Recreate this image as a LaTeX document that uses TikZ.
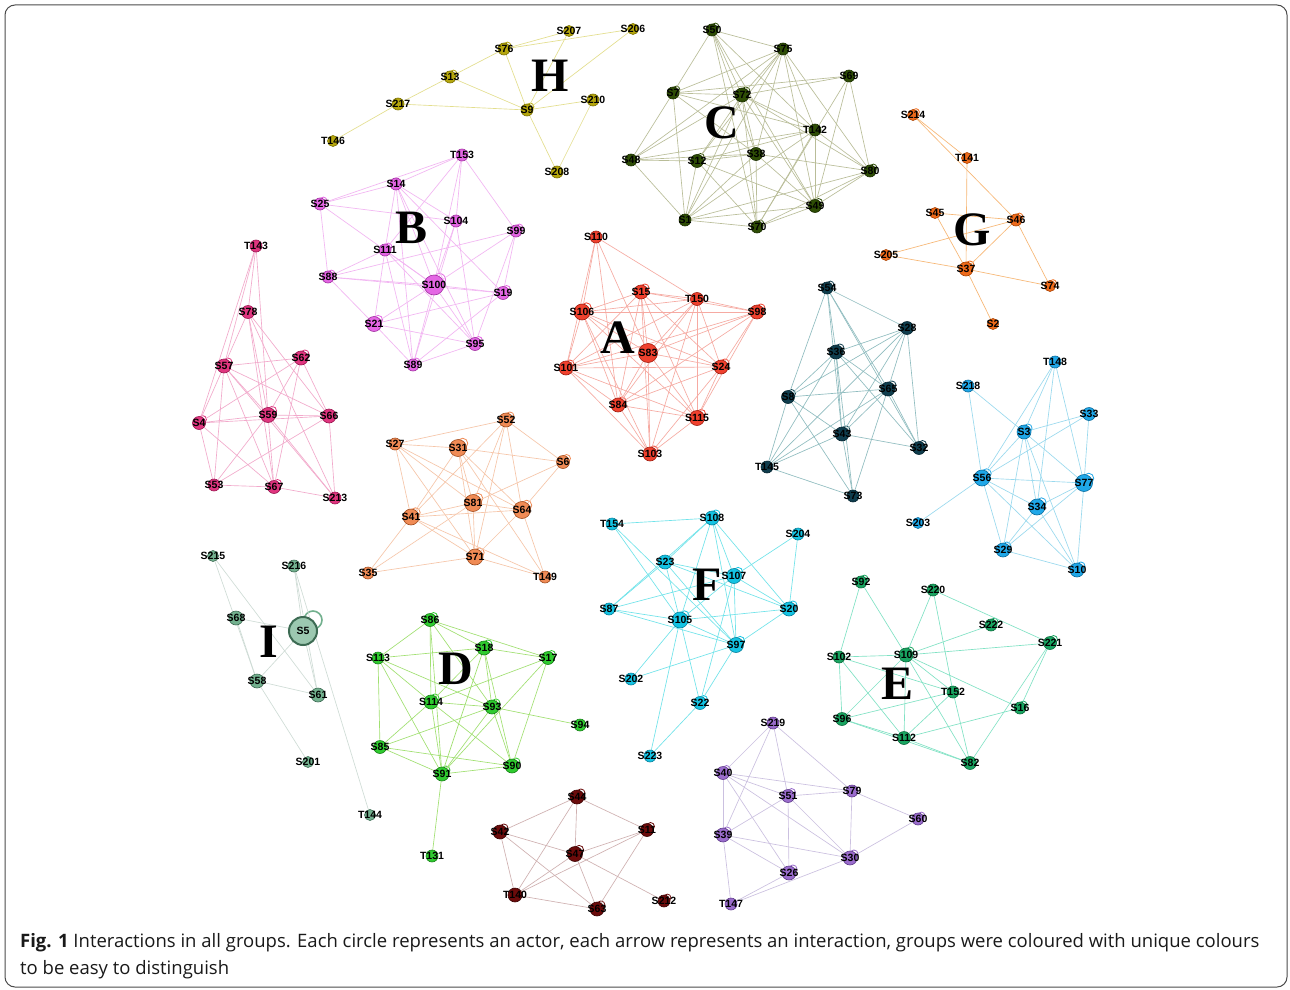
\documentclass[tikz,border=0pt]{standalone}
\usepackage{fontspec}
\setmainfont{Liberation Serif}
\newfontfamily\capfont{Open Sans}
\newfontfamily\lblfamily{Liberation Sans}
\pgfdeclarelayer{bg}
\pgfsetlayers{bg,main}
\newcommand\cl[3]{\definecolor{nf}{HTML}{#1}\definecolor{nl}{HTML}{#2}\definecolor{ec}{HTML}{#3}}
\newcommand\vx[5]{\node[vert,minimum size=#5*2pt] (#1) at (#2,#3) {};\node[lbl] at (#1) {#4};}
\newcommand\vl[5]{\vx{#1}{#2}{#3}{#4}{#5}\begin{pgfonlayer}{bg}\draw[lpc] (#2+#5*0.55,#3-#5*0.55) circle[radius=#5*0.6pt];\end{pgfonlayer}}
\newcommand\E[1]{\begin{pgfonlayer}{bg}\foreach \a/\b in {#1}{\draw[ed] (\a.center)--(\b.center);}\end{pgfonlayer}}
\begin{document}
\begin{tikzpicture}[x=1pt,y=-1pt,
  vert/.style={circle,inner sep=0pt,fill=nf,draw=nl,line width=0.6pt},
  lbl/.style={font=\lblfamily\bfseries\fontsize{10.5}{10.5}\selectfont,inner sep=0pt,text=black},
  ed/.style={draw=ec,line width=0.65pt},
  lpc/.style={draw=nf,line width=0.8pt},
  letter/.style={font=\rmfamily\bfseries\fontsize{48}{48}\selectfont,inner sep=0pt,text=black},
  frame/.style={draw=black!70,line width=1pt,rounded corners=10pt},
  captxt/.style={font=\capfont\fontsize{18.5}{18.5}\selectfont,anchor=west,inner sep=0pt,text=black!90}]
\useasboundingbox (0,0) rectangle (1290,990);
\begin{pgfonlayer}{bg}\fill[white] (0,0) rectangle (1290,990);\end{pgfonlayer}
\draw[frame] (5,5) rectangle (1287,987);

% ---------- H ----------
\cl{B5A60C}{7A7000}{E3DE8C}
\vx{S207}{569}{31}{S207}{5.5}
\vx{S206}{633}{29}{S206}{5.5}
\vl{S76}{504}{49}{S76}{6}
\vl{S13}{450}{77}{S13}{6}
\vx{S217}{398}{104}{S217}{6}
\vl{S9}{527}{110}{S9}{6}
\vx{S210}{593}{100}{S210}{6}
\vx{T146}{333}{141}{T146}{5.5}
\vx{S208}{557}{172}{S208}{6}
\E{S76/S207,S76/S206,S207/S9,S206/S9,S76/S9,S76/S13,S13/S217,S13/S9,S217/S9,S217/T146,S9/S210,S9/S208,S210/S208}
\node[letter] (LH) at (550,76) {H};

% ---------- C ----------
\cl{2E4D05}{1A2D00}{B9BD98}
\vl{S50}{712}{30}{S50}{6}
\vx{S75}{783}{49}{S75}{6}
\vx{S69}{849}{76}{S69}{6}
\vl{S7}{673}{93}{S7}{6}
\vl{S72}{742}{95}{S72}{7}
\vx{T142}{815}{130}{T142}{6}
\vx{S48}{631}{160}{S48}{6}
\vl{S12}{697}{161}{S12}{6.5}
\vx{S38}{756}{154}{S38}{6.5}
\vl{S80}{870}{171}{S80}{6}
\vl{S49}{815}{206}{S49}{6.5}
\vx{S1}{685}{220}{S1}{6}
\vl{S70}{757}{227}{S70}{6}
\E{S50/S75,S50/S7,S50/S72,S50/S38,S50/S70,S50/S49,S50/T142,S75/S7,S75/S48,S75/S72,S75/S12,S75/S38,S75/S1,S75/T142,S75/S49,S75/S80,S69/S7,S69/S72,S69/S49,S69/S80,S69/S70,S7/S48,S7/S1,S7/S38,S7/T142,S7/S72,S72/S48,S72/S12,S72/S1,S72/S70,S72/S49,S72/T142,S72/S80,S72/S38,T142/S48,T142/S12,T142/S1,T142/S49,T142/S70,T142/S80,S48/S38,S48/S12,S48/S1,S12/S1,S12/S70,S12/S49,S12/S38,S38/S1,S38/S70,S38/S49,S38/S80,S80/S1,S80/S70,S80/S49,S49/S1,S49/S70,S1/S70}
\node[letter] (LC) at (722,123) {C};

% ---------- G ----------
\cl{EE6A1A}{A84000}{F7B673}
\vl{S214}{913}{115}{S214}{5.5}
\vx{T141}{967}{158}{T141}{5.5}
\vx{S45}{935}{213}{S45}{5.5}
\vl{S46}{1016}{220}{S46}{6}
\vx{S205}{886}{255}{S205}{5.5}
\vl{S37}{966}{269}{S37}{7}
\vl{S74}{1050}{286}{S74}{5.5}
\vx{S2}{993}{324}{S2}{5.5}
\E{S214/T141,S214/S46,T141/S37,S45/S46,S45/S37,S46/S205,S46/S37,S46/S74,S205/S37,S37/S74,S37/S2}
\node[letter] (LG) at (972,230) {G};

% ---------- B ----------
\cl{E466E4}{A030A0}{F2B4F2}
\vx{T153}{462}{155}{T153}{6}
\vx{S14}{396}{184}{S14}{6}
\vl{S25}{320}{204}{S25}{6}
\vx{S104}{456}{221}{S104}{6}
\vl{S99}{516}{231}{S99}{6}
\vl{S111}{385}{250}{S111}{6}
\vl{S88}{328}{277}{S88}{6}
\vl{S100}{434}{285}{S100}{10}
\vl{S19}{503}{293}{S19}{6.5}
\vl{S21}{374}{324}{S21}{7.5}
\vl{S95}{475}{344}{S95}{6.5}
\vl{S89}{413}{365}{S89}{6}
\E{T153/S25,T153/S14,T153/S111,T153/S104,T153/S100,T153/S99,S14/S25,S14/S104,S14/S111,S14/S100,S14/S95,S14/S19,S14/S89,S25/S88,S25/S100,S25/S104,S104/S100,S104/S95,S104/S89,S99/S88,S99/S100,S99/S19,S99/S95,S111/S88,S111/S21,S111/S89,S111/S95,S111/S100,S88/S100,S88/S21,S88/S19,S100/S19,S100/S21,S100/S89,S100/S95,S19/S21,S19/S89,S21/S95,S21/S89,S89/S95}
\node[letter] (LB) at (412,228) {B};

% ---------- A ----------
\cl{F0412E}{A01D10}{F6AAA2}
\vx{S110}{596}{237}{S110}{6}
\vl{S15}{641}{292}{S15}{7}
\vx{T150}{697}{299}{T150}{6.5}
\vl{S98}{757}{312}{S98}{7}
\vl{S106}{582}{312}{S106}{8}
\vx{S83}{648}{353}{S83}{9.5}
\vl{S101}{566}{368}{S101}{7}
\vl{S24}{721}{367}{S24}{7}
\vl{S84}{618}{405}{S84}{7}
\vl{S115}{697}{418}{S115}{7.5}
\vl{S103}{650}{454}{S103}{7}
\E{S110/S106,S110/S101,S110/S84,S110/T150,S110/S83,S15/S106,S15/T150,S15/S98,S15/S101,S15/S84,S15/S83,S15/S24,S15/S115,S15/S103,T150/S106,T150/S98,T150/S101,T150/S84,T150/S83,T150/S24,T150/S115,T150/S103,S98/S106,S98/S101,S98/S83,S98/S24,S98/S115,S98/S84,S106/S101,S106/S83,S106/S84,S106/S24,S106/S115,S106/S103,S83/S101,S83/S24,S83/S84,S83/S115,S83/S103,S101/S24,S101/S84,S101/S103,S101/S115,S24/S84,S24/S115,S24/S103,S84/S115,S84/S103,S115/S103}
\node[letter] (LA) at (618,338) {A};

% ---------- pink left ----------
\cl{E0357F}{9A1650}{F2A9CB}
\vx{T143}{256}{246}{T143}{6}
\vx{S78}{248}{312}{S78}{6.5}
\vl{S62}{301}{358}{S62}{7}
\vl{S57}{224}{366}{S57}{7}
\vl{S59}{268}{415}{S59}{7.5}
\vl{S4}{199}{423}{S4}{6.5}
\vx{S66}{329}{416}{S66}{7}
\vx{S53}{214}{485}{S53}{6}
\vl{S67}{274}{487}{S67}{6.5}
\vx{S213}{335}{498}{S213}{6}
\E{T143/S57,T143/S4,T143/S78,T143/S59,S78/S57,S78/S59,S78/S67,S78/S213,S78/S66,S57/S62,S57/S4,S57/S53,S57/S59,S57/S67,S57/S66,S57/S213,S62/S4,S62/S59,S62/S67,S62/S66,S59/S4,S59/S66,S59/S53,S59/S67,S59/S213,S4/S66,S4/S53,S4/S67,S66/S213,S53/S67,S67/S213,S66/S53}
% ---------- salmon ----------
\cl{F08B55}{A04D20}{F6C5A8}
\vl{S52}{506}{420}{S52}{7}
\vx{S27}{395}{444}{S27}{6}
\vl{S31}{458}{448}{S31}{8.5}
\vl{S6}{563}{462}{S6}{6.5}
\vl{S81}{473}{503}{S81}{8.5}
\vl{S64}{522}{510}{S64}{8.5}
\vl{S41}{411}{517}{S41}{8}
\vl{S71}{475}{557}{S71}{8}
\vx{S35}{368}{573}{S35}{6}
\vx{T149}{545}{577}{T149}{6}
\E{S52/S27,S52/S41,S52/S81,S52/S64,S52/S71,S52/S6,S27/S31,S27/S41,S27/S81,S27/S64,S27/S71,S31/S6,S31/S41,S31/S81,S31/S64,S31/S71,S31/T149,S6/S81,S6/S64,S81/S41,S81/S64,S81/S71,S81/S35,S64/S41,S64/S71,S64/T149,S41/S35,S41/S71,S41/T149,S71/S35,S71/T149}

% ---------- dark teal ----------
\cl{0F3D4D}{062530}{8FBCBF}
\vl{S54}{827}{288}{S54}{6}
\vx{S28}{907}{328}{S28}{6.5}
\vl{S36}{836}{352}{S36}{7}
\vl{S8}{788}{397}{S8}{6.5}
\vl{S65}{888}{389}{S65}{7}
\vl{S43}{842}{434}{S43}{7}
\vl{S32}{919}{448}{S32}{6.5}
\vx{T145}{767}{467}{T145}{6}
\vx{S73}{853}{496}{S73}{6}
\E{S54/S28,S54/S36,S54/S8,S54/S43,S54/S65,S54/S32,S28/S36,S28/S8,S28/S43,S28/T145,S28/S65,S28/S32,S36/S8,S36/S65,S36/S43,S36/S73,S36/T145,S36/S32,S8/S65,S8/S43,S8/S73,S8/T145,S65/T145,S65/S43,S65/S32,S65/S73,S43/T145,S43/S32,S43/S73,T145/S73}

% ---------- cyan right ----------
\cl{1FA7E8}{0B6A9A}{99D9EE}
\vx{T148}{1055}{362}{T148}{6}
\vx{S218}{968}{386}{S218}{6}
\vx{S33}{1089}{414}{S33}{6.5}
\vl{S3}{1024}{432}{S3}{7}
\vl{S56}{982}{478}{S56}{8}
\vl{S77}{1084}{483}{S77}{8.5}
\vl{S34}{1037}{507}{S34}{8}
\vx{S203}{918}{523}{S203}{5.5}
\vl{S29}{1003}{550}{S29}{7}
\vl{S10}{1077}{570}{S10}{7}
\E{T148/S3,T148/S56,T148/S34,T148/S77,S218/S3,S218/S56,S33/S3,S33/S56,S33/S77,S3/S56,S3/S34,S3/S29,S3/S10,S3/S77,S56/S77,S56/S34,S56/S29,S56/S10,S56/S203,S34/S77,S34/S29,S34/S10,S77/S29,S77/S10,S29/S10}

% ---------- F ----------
\cl{14C3E3}{08809A}{6FE3EA}
\vx{T154}{612}{524}{T154}{6}
\vl{S108}{712}{518}{S108}{7}
\vx{S204}{798}{534}{S204}{6}
\vx{S23}{665}{562}{S23}{7}
\vl{S107}{734}{576}{S107}{7.5}
\vx{S87}{609}{609}{S87}{6}
\vl{S20}{789}{609}{S20}{7}
\vl{S105}{680}{620}{S105}{8}
\vl{S97}{736}{645}{S97}{7.5}
\vx{S202}{631}{679}{S202}{6}
\vl{S22}{700}{703}{S22}{6.5}
\vx{S223}{650}{756}{S223}{6}
\E{T154/S108,T154/S105,T154/S97,S108/S23,S108/S87,S108/S107,S108/S105,S108/S97,S108/S20,S23/S107,S23/S105,S23/S97,S23/S87,S23/S20,S107/S87,S107/S105,S107/S20,S107/S22,S107/S97,S107/S204,S204/S20,S87/S105,S87/S97,S105/S20,S105/S97,S105/S202,S105/S22,S105/S223,S97/S20,S97/S22,S22/S223,S97/S202}
\node[letter] (LF) at (707,585) {F};

% ---------- E ----------
\cl{19A561}{0B6A3C}{80E2C4}
\vl{S92}{861}{582}{S92}{6}
\vx{S220}{933}{590}{S220}{6}
\vl{S222}{991}{625}{S222}{6}
\vl{S221}{1050}{643}{S221}{6.5}
\vx{S102}{839}{657}{S102}{6}
\vl{S109}{906}{655}{S109}{7}
\vx{T152}{953}{692}{T152}{6}
\vl{S16}{1020}{708}{S16}{6}
\vx{S96}{842}{719}{S96}{6.5}
\vx{S112}{904}{738}{S112}{6.5}
\vx{S82}{970}{763}{S82}{6.5}
\E{S92/S102,S92/S109,S220/S109,S220/T152,S220/S221,S222/S109,S221/S109,S221/S82,S221/S16,S102/S109,S102/S96,S102/S112,S102/T152,S109/S96,S109/S112,S109/T152,S109/S82,S109/S16,T152/S96,T152/S112,T152/S82,S16/S112,S96/S112,S96/S82,S112/S82}
\node[letter] (LE) at (897,684) {E};

% ---------- purple ----------
\cl{9A6CCC}{5E3A8A}{CBC0E0}
\vx{S219}{773}{723}{S219}{6}
\vl{S40}{723}{773}{S40}{6.5}
\vl{S51}{788}{796}{S51}{6.5}
\vx{S79}{852}{791}{S79}{6}
\vl{S60}{918}{819}{S60}{6}
\vl{S39}{723}{835}{S39}{7}
\vl{S30}{850}{858}{S30}{7}
\vl{S26}{789}{873}{S26}{7}
\vx{T147}{731}{904}{T147}{6}
\E{S219/S40,S219/S39,S219/S51,S219/S79,S40/S51,S40/S79,S40/S39,S40/S26,S40/S30,S51/S39,S51/S26,S51/S30,S51/S79,S79/S30,S79/S60,S60/S30,S39/S26,S39/S30,S39/T147,S26/T147,S30/T147}

% ---------- dark red ----------
\cl{6B0B0B}{3A0303}{CFB0B0}
\vl{S44}{577}{797}{S44}{7}
\vl{S42}{500}{832}{S42}{7}
\vl{S11}{647}{830}{S11}{6.5}
\vl{S47}{575}{854}{S47}{7.5}
\vx{T140}{515}{895}{T140}{7}
\vl{S63}{597}{909}{S63}{7}
\vl{S212}{664}{901}{S212}{6}
\E{S44/S42,S44/S11,S44/S47,S44/T140,S42/S47,S42/T140,S42/S63,S11/S47,S11/T140,S11/S63,S47/T140,S47/S63,S47/S212,T140/S63}

% ---------- D ----------
\cl{2FCB2F}{178017}{A0E070}
\vl{S86}{430}{620}{S86}{6.5}
\vl{S18}{484}{648}{S18}{7}
\vl{S17}{548}{658}{S17}{6.5}
\vx{S113}{378}{658}{S113}{6}
\vl{S114}{431}{702}{S114}{7}
\vl{S93}{492}{707}{S93}{7}
\vx{S94}{580}{725}{S94}{6}
\vx{S85}{380}{747}{S85}{6.5}
\vl{S91}{442}{774}{S91}{7}
\vl{S90}{512}{766}{S90}{7}
\vx{T131}{432}{856}{T131}{6}
\E{S86/S18,S86/S113,S86/S114,S86/S93,S86/S17,S86/S91,S18/S17,S18/S113,S18/S114,S18/S93,S18/S90,S18/S91,S17/S114,S17/S90,S17/S91,S113/S114,S113/S93,S113/S85,S113/S91,S114/S93,S114/S85,S114/S91,S114/S90,S93/S85,S93/S94,S93/S90,S93/S91,S85/S91,S85/S90,S91/S90,S91/T131}
\node[letter] (LD) at (456,669) {D};

% ---------- I ----------
\cl{72B08E}{3D6B53}{CFDCD6}
\vx{S215}{213}{556}{S215}{5.5}
\vx{S216}{294}{566}{S216}{6}
\vx{S68}{236}{618}{S68}{7}
\vx{S58}{257}{681}{S58}{7}
\vx{S61}{318}{695}{S61}{7}
\vx{S201}{308}{762}{S201}{5.5}
\vx{T144}{370}{815}{T144}{5.5}
\begin{pgfonlayer}{bg}\draw[draw=nf,line width=1.6pt] (313,620) circle[radius=9pt];\end{pgfonlayer}
\node[vert,minimum size=28pt,fill=nf!70!white,draw=nl,line width=2pt] (S5) at (303,631) {};
\node[lbl] at (S5) {S5};
\E{S215/S58,S215/S61,S216/S5,S216/S61,S216/T144,S68/S58,S68/S5,S5/S58,S5/S61,S58/S61,S58/S201}
\node[letter] (LI) at (269,642) {I};

% ---------- caption ----------
\node[captxt] (cap1) at (20,943) {{\bfseries Fig. 1} Interactions in all groups. Each circle represents an actor, each arrow represents an interaction, groups were coloured with unique colours};
\node[captxt] (cap2) at (20,970) {to be easy to distinguish};
\end{tikzpicture}
\end{document}
